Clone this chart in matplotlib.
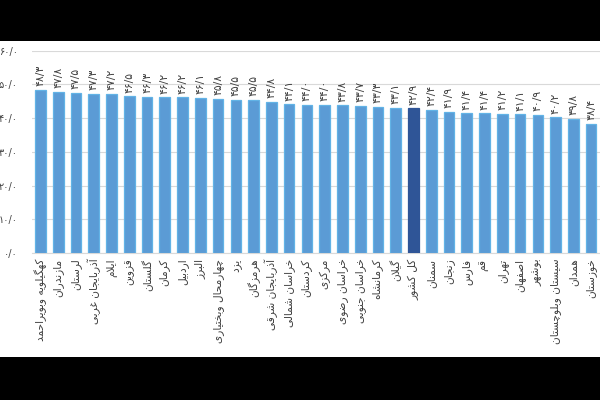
import matplotlib
matplotlib.use("Agg")
import matplotlib.pyplot as plt
from matplotlib.patches import Rectangle

# ---------------- data ----------------
provinces = [
    "کهگیلویه وبویراحمد", "مازندران", "لرستان", "آذربایجان غربی", "ایلام",
    "قزوین", "گلستان", "کرمان", "اردبیل", "البرز", "چهارمحال وبختیاری",
    "یزد", "هرمزگان", "آذربایجان شرقی", "خراسان شمالی", "کردستان", "مرکزی",
    "خراسان رضوی", "خراسان جنوبی", "کرمانشاه", "گیلان", "کل کشور", "سمنان",
    "زنجان", "فارس", "قم", "تهران", "اصفهان", "بوشهر", "سیستان وبلوچستان",
    "همدان", "خوزستان",
]
values = [48.3, 47.8, 47.5, 47.3, 47.2, 46.5, 46.3, 46.2, 46.2, 46.1, 45.8,
          45.5, 45.5, 44.8, 44.1, 44.0, 44.0, 43.8, 43.7, 43.3, 43.1, 42.9,
          42.4, 41.9, 41.4, 41.4, 41.2, 41.1, 40.9, 40.2, 39.8, 38.4]
highlight = "کل کشور"
yticks = [0, 10, 20, 30, 40, 50, 60]

# ------------- minimal Persian shaping -------------
_dual_base = {
    '\u0628': 0xFE8F, '\u062A': 0xFE95, '\u062B': 0xFE99, '\u062C': 0xFE9D,
    '\u062D': 0xFEA1, '\u062E': 0xFEA5, '\u0633': 0xFEB1, '\u0634': 0xFEB5,
    '\u0635': 0xFEB9, '\u0636': 0xFEBD, '\u0637': 0xFEC1, '\u0638': 0xFEC5,
    '\u0639': 0xFEC9, '\u063A': 0xFECD, '\u0641': 0xFED1, '\u0642': 0xFED5,
    '\u0643': 0xFED9, '\u0644': 0xFEDD, '\u0645': 0xFEE1, '\u0646': 0xFEE5,
    '\u0647': 0xFEE9, '\u064A': 0xFEF1, '\u067E': 0xFB56, '\u0686': 0xFB7A,
    '\u06A9': 0xFB8E, '\u06AF': 0xFB92, '\u06CC': 0xFBFC,
}
_right_base = {
    '\u0622': 0xFE81, '\u0627': 0xFE8D, '\u062F': 0xFEA9, '\u0630': 0xFEAB,
    '\u0631': 0xFEAD, '\u0632': 0xFEAF, '\u0698': 0xFB8A, '\u0648': 0xFEED,
}
_lamalef = {'\u0627': 0xFEFB, '\u0622': 0xFEF5}


def _is_letter(c):
    return c in _dual_base or c in _right_base


def shape(text):
    chars = list(text)
    out = []
    i = 0
    n = len(chars)
    while i < n:
        c = chars[i]
        if not _is_letter(c):
            out.append(c)
            i += 1
            continue
        prev = chars[i - 1] if i > 0 else ''
        joins_prev = prev in _dual_base
        if c == '\u0644' and i + 1 < n and chars[i + 1] in _lamalef:
            base = _lamalef[chars[i + 1]]
            out.append(chr(base + (1 if joins_prev else 0)))
            i += 2
            continue
        nxt = chars[i + 1] if i + 1 < n else ''
        if c in _dual_base:
            base = _dual_base[c]
            joins_next = _is_letter(nxt)
            if joins_prev and joins_next:
                cp = base + 3
            elif joins_prev:
                cp = base + 1
            elif joins_next:
                cp = base + 2
            else:
                cp = base
        else:
            base = _right_base[c]
            cp = base + (1 if joins_prev else 0)
        out.append(chr(cp))
        i += 1
    return ''.join(reversed(out))


_fa_digits = str.maketrans('0123456789.', '۰۱۲۳۴۵۶۷۸۹/')


def fa_num(v):
    return f"{v:.1f}".translate(_fa_digits)


# ---------------- figure ----------------
W, H = 600, 400
fig = plt.figure(figsize=(6, 4), dpi=100, facecolor='white')
# black letterbox bands top and bottom
fig.patches.append(Rectangle((0, 0), 1, 43 / H, transform=fig.transFigure,
                             facecolor='black', edgecolor='none', zorder=-10))
fig.patches.append(Rectangle((0, 359 / H), 1, 41 / H, transform=fig.transFigure,
                             facecolor='black', edgecolor='none', zorder=-10))

ax = fig.add_axes([31.6 / W, 147 / H, 568.4 / W, 202.3 / H])
ax.set_facecolor('white')

x = list(range(len(values)))
fill = ['#2F5597' if p == highlight else '#5B9BD5' for p in provinces]
edge = ['#2F5597' if p == highlight else '#62B3E6' for p in provinces]
ax.bar(x, values, width=0.6, color=fill, edgecolor=edge, linewidth=0.9, zorder=3)

txt_color = '#404040'
for xi, v in zip(x, values):
    ax.text(xi, v + 1.1, fa_num(v), rotation=90, ha='center', va='bottom',
            fontsize=7.8, color=txt_color)

ax.set_xlim(-0.5, len(values) - 0.5)
ax.set_ylim(0, 60)
ax.set_yticks(yticks)
ax.set_yticklabels([fa_num(t) for t in yticks], fontsize=7, color=txt_color)
ax.set_xticks(x)
ax.set_xticklabels([shape(p) for p in provinces], rotation=90, ha='center',
                   va='top', fontsize=7.6, color=txt_color)
ax.tick_params(axis='y', length=0, pad=10)
ax.tick_params(axis='x', length=0, pad=4)

ax.yaxis.grid(True, color='#D9D9D9', linewidth=0.8)
ax.set_axisbelow(True)
for s in ['top', 'right', 'left']:
    ax.spines[s].set_visible(False)
ax.spines['bottom'].set_color('#D9D9D9')
ax.spines['bottom'].set_linewidth(0.8)

fig.savefig('out.png', dpi=100)
